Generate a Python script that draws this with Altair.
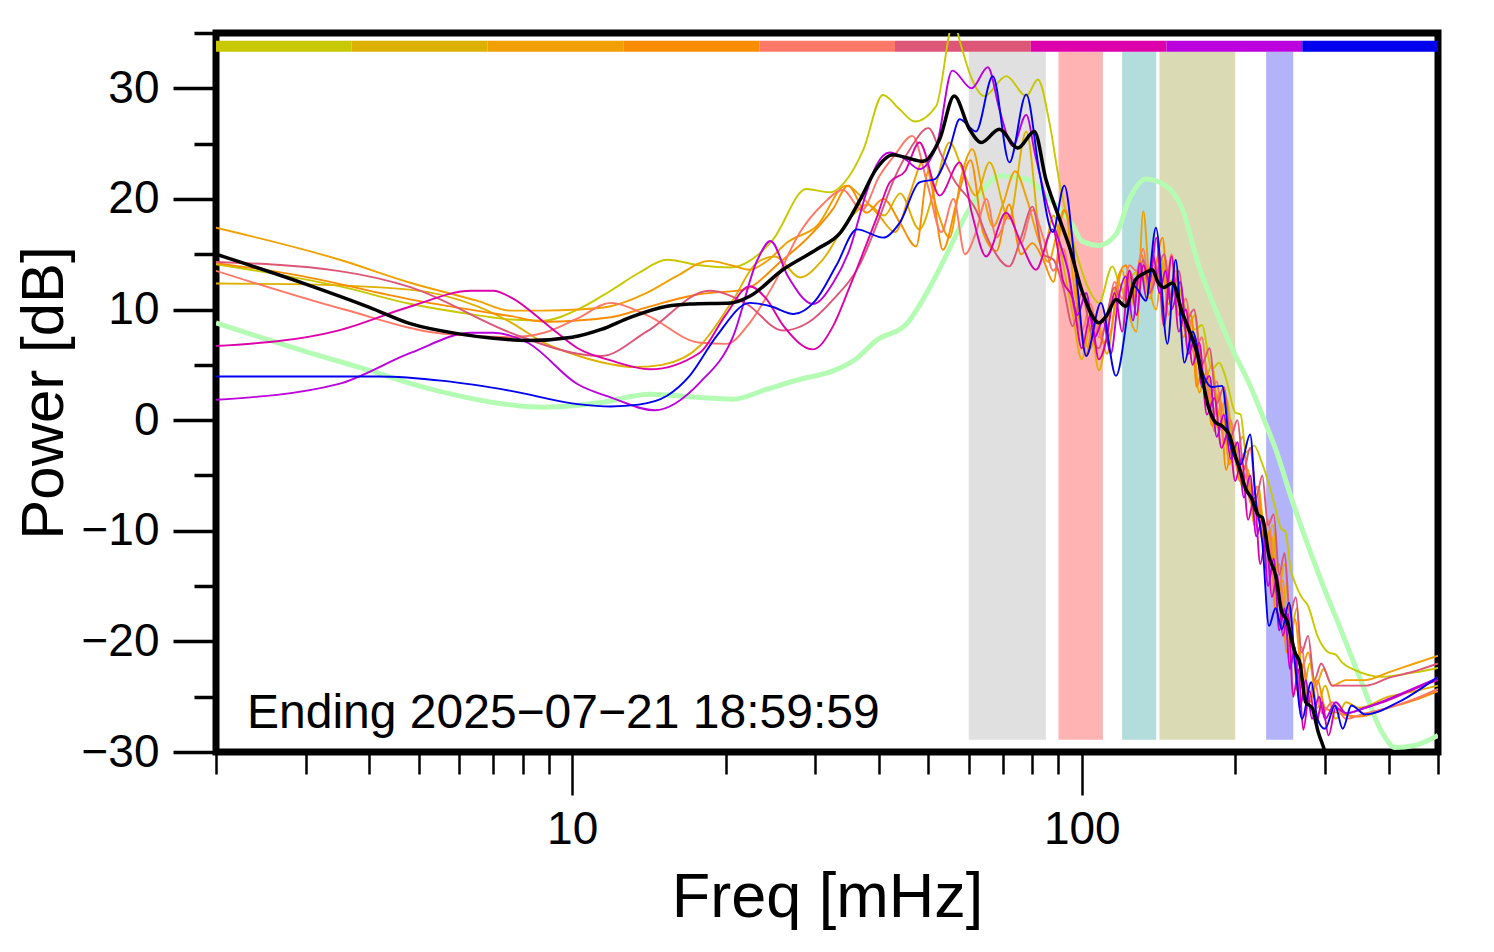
import altair as alt
import pandas as pd

FONT = "Liberation Sans"

# ---------------- data ----------------
series_names = ["s1", "s2", "s3", "s4", "s5", "s6", "s7", "s8", "s9"]
series_colors = ["#c8c800", "#ddb100", "#f0a000", "#fa8c00", "#ff7766",
                 "#dd5577", "#dd00aa", "#bb00dd", "#0000ee"]

f_s1 = [2, 3.57, 4.83, 6.5, 7.58, 8.8, 10.25, 11.9, 13.5, 15.35, 17.8, 20.5, 22.3, 24.8, 28.8, 32, 35, 37.3, 40.7, 43.9,
        47, 51.8, 56, 58, 60.2, 64.4, 71.1, 77.8, 82, 86.4, 90.4, 95.9, 100, 105, 108, 114.8, 120, 125, 131.5, 136,
        140, 145, 152, 160, 167, 172, 180, 186, 192, 200, 205, 210, 218, 225, 232, 240, 246, 251, 257, 262,
        270, 278, 290, 305, 315, 324, 344, 387, 450, 500]
v_s1 = [14.1, 12.0, 10.5, 9.5, 9.1, 9.0, 10.0, 11.7, 13.3, 14.5, 14.0, 13.8, 14.4, 16.35, 20.9, 20.6, 22.1, 24.5, 29.4, 28.1,
        27.0, 28.4, 36.0, 33.8, 31.4, 29.3, 31.1, 29.3, 30.8, 26.9, 21.5, 16.4, 13.5, 11.2, 10.6, 13.9, 11.8, 13.0, 13.6, 12.5,
        12.7, 12.0, 12.8, 10.0, 8.2, 8.6, 4.6, 5.2, 3.7, 0.7, 0.5, -2.9, -2.3, -3.7, -5.5, -8.0, -9.8, -10.1, -13.5, -14.7,
        -16.0, -16.8, -19.5, -21.0, -21.2, -21.9, -22.6, -23.2, -22.8, -22.4]

f_s2 = [2, 2.8, 4.8, 6.5, 7.6, 8.8, 10.3, 11.9, 13.2, 15, 17.8, 20.7, 23, 25, 28, 31, 35, 38, 41, 44,
        48, 51.5, 55, 58.5, 62, 65.9, 72, 77.8, 84, 88, 92, 96, 100, 104, 108, 113, 118, 124, 130, 136,
        142, 148, 153, 160, 167, 173, 180, 186, 192, 200, 207, 214, 222, 230, 237, 243, 250, 257, 264, 272,
        280, 290, 300, 315, 330, 350, 400, 450, 500]
v_s2 = [12.35, 12.3, 11.8, 10.3, 8.8, 7.0, 5.8, 5.06, 4.8, 5.0, 6.7, 10.9, 14.2, 14.8, 12.9, 14.5, 18.2, 19.5, 18.5, 20.5,
        17.25, 21.0, 25.1, 22.5, 20.3, 23.3, 18.2, 26.1, 15.2, 18.5, 14.0, 9.5, 5.5, 8.5, 4.5, 9.0, 12.5, 10.0, 14.0, 11.0,
        15.0, 10.5, 12.5, 8.0, 9.5, 3.0, 5.0, 0.5, 2.0, -3.0, -1.5, -7.0, -6.0, -11.5, -9.5, -15.5, -13.0, -19.5, -17.0, -24.5,
        -22.0, -26.0, -24.0, -27.0, -25.5, -26.0, -25.0, -24.5, -24.0]

f_s3 = [2, 3.5, 4.83, 6.5, 7.58, 8.8, 10.25, 11.9, 14, 16, 18.6, 20.5, 22.3, 24.3, 26.4, 30.2, 34.5, 37.3, 40, 43,
        46, 49, 52, 55, 58, 61, 64, 67, 70, 74, 78, 82, 86, 90, 93, 96, 100, 104, 108, 112,
        116, 120, 124, 128, 132, 136, 140, 144, 148, 153, 158, 164, 170, 176, 182, 188, 195, 200, 206, 212,
        218, 224, 230, 236, 242, 248, 255, 262, 270, 278, 288, 298, 310, 330, 360, 400, 450, 500]
v_s3 = [17.4, 14.5, 12.4, 10.8, 9.9, 9.9, 10.0, 10.3, 11.5, 13.0, 14.4, 14.0, 13.6, 14.5, 16.05, 17.55, 21.2, 20.0, 18.5, 17.0,
        20.5, 23.5, 19.0, 16.5, 22.0, 24.5, 20.5, 17.5, 19.5, 22.5, 20.0, 16.5, 14.3, 17.5, 19.0, 13.0, 8.0, 6.5, 8.5, 6.0,
        10.0, 13.5, 9.5, 8.0, 18.9, 12.0, 10.0, 14.5, 9.5, 13.5, 7.5, 9.0, 2.5, 4.5, -1.0, 1.5, -4.0, -2.0, -6.0, -4.5,
        -9.5, -8.0, -13.0, -10.5, -16.0, -14.5, -20.5, -18.0, -22.5, -21.0, -24.0, -22.5, -24.0, -23.5, -23.5, -22.8, -22.0, -21.3]

f_s4 = [2, 2.81, 4.83, 7.58, 8.8, 11.9, 14, 17.8, 21.7, 25.9, 28.8, 32.5, 34.8, 37.8, 40.8, 43.9, 47.3, 50, 53.4, 57,
        60.5, 64, 68, 72, 76, 80, 84, 88, 92, 95, 98, 102, 106, 110, 114, 118, 122, 126, 131, 135,
        139, 144, 148, 153, 158, 164, 168, 174, 180, 186, 192, 198, 204, 210, 216, 222, 228, 234, 240, 246,
        252, 258, 265, 272, 280, 290, 300, 320, 350, 400, 450, 500]
v_s4 = [14.2, 13.2, 10.9, 9.4, 8.9, 9.3, 10.2, 11.4, 11.8, 14.5, 16.35, 19.1, 21.2, 18.75, 20.0, 17.9, 15.7, 22.5, 15.4, 20.0,
        23.5, 17.0, 15.3, 19.5, 15.0, 16.0, 14.5, 12.5, 19.0, 17.5, 11.0, 6.0, 9.5, 7.0, 8.0, 13.0, 14.0, 11.0, 15.0, 12.0,
        13.5, 16.5, 11.0, 12.0, 8.5, 9.5, 3.0, 5.5, -0.5, 2.5, -4.5, -2.0, -5.5, -4.0, -8.0, -6.5, -11.5, -10.0, -17.5, -15.0,
        -21.0, -19.0, -24.5, -22.0, -25.5, -23.5, -26.0, -26.5, -26.8, -26.0, -25.3, -24.5]

f_s5 = [2, 3.57, 5.6, 7.58, 8.8, 10.25, 11.9, 14, 17.8, 20.1, 22.3, 25, 27.95, 31, 34, 37, 40, 43, 46.5, 50,
        53, 56, 59, 62, 65, 68, 72, 76, 80, 84, 88, 92, 96, 100, 104, 108, 112, 116, 120, 124,
        128, 132, 136, 140, 145, 150, 155, 160, 166, 172, 178, 184, 190, 196, 202, 208, 214, 220, 226, 232,
        238, 244, 250, 256, 263, 270, 278, 286, 296, 310, 330, 360, 400, 450, 500]
v_s5 = [13.5, 10.0, 7.8, 7.5, 7.9, 9.2, 10.6, 9.5, 7.0, 6.9, 8.8, 12.5, 16.95, 19.5, 20.8, 19.0, 22.0, 24.0, 25.7, 21.0,
        17.0, 20.0, 15.0, 17.0, 20.0, 16.5, 18.5, 16.0, 19.0, 16.5, 13.5, 15.5, 10.5, 8.0, 10.5, 7.5, 9.0, 12.5, 11.0, 14.0,
        13.5, 15.5, 11.5, 14.0, 10.0, 15.0, 9.5, 11.0, 6.0, 7.5, 2.0, 3.5, -2.0, 0.0, -4.5, -3.0, -7.5, -6.0, -11.0, -9.0,
        -14.5, -13.0, -18.0, -17.0, -22.5, -20.5, -25.5, -23.5, -26.5, -25.5, -27.0, -26.5, -26.0, -25.2, -24.3]

f_s6 = [2, 3.47, 4.83, 7.58, 10.25, 11.4, 14, 18.6, 22, 25.9, 29, 32.5, 36.8, 39.5, 43, 46, 50, 53, 56, 62,
        66, 72, 76, 80, 84, 88, 92, 96, 100, 104, 108, 112, 116, 120, 124, 128, 132, 136, 140, 145,
        150, 155, 160, 166, 172, 178, 184, 190, 196, 202, 208, 214, 220, 226, 232, 238, 244, 250, 256, 263,
        270, 278, 286, 295, 310, 330, 360, 400, 450, 500]
v_s6 = [14.3, 13.5, 12.0, 7.9, 6.0, 5.8, 8.0, 11.7, 10.5, 8.1, 8.8, 10.9, 14.2, 17.55, 22.0, 24.5, 26.4, 24.0, 21.8, 19.0,
        16.0, 13.9, 16.5, 19.3, 15.0, 14.5, 12.0, 8.5, 11.5, 8.0, 6.5, 9.5, 12.0, 10.5, 13.5, 12.0, 14.5, 11.5, 13.0, 15.0,
        11.0, 13.5, 9.0, 10.0, 5.0, 6.5, 1.5, 3.0, -1.5, 0.0, -4.5, -2.5, -7.0, -5.0, -9.5, -8.5, -14.0, -12.0, -17.5, -16.0,
        -21.0, -19.5, -23.5, -22.0, -24.0, -24.0, -24.0, -23.3, -22.7, -22.0]

f_s7 = [2, 3.47, 4.83, 6.33, 7.0, 7.58, 9, 10.25, 11.9, 14.2, 17.8, 20, 22.3, 24, 26, 29.7, 32.5, 35, 37.5, 39.5,
        42, 45, 48, 52.6, 57.6, 61, 64.9, 71, 76, 81.3, 87.7, 92, 96, 100, 104, 108, 112, 116, 120, 124,
        128, 132, 136, 140, 145, 150, 155, 160, 165, 170, 176, 182, 188, 194, 200, 206, 212, 218, 224, 230,
        236, 242, 248, 254, 260, 266, 272, 280, 288, 296, 305, 315, 330, 360, 400, 450, 500]
v_s7 = [6.7, 8.1, 10.3, 11.7, 11.7, 11.1, 8.5, 6.5, 5.4, 4.6, 6.1, 9.5, 12.1, 11.0, 8.5, 6.4, 8.5, 12.0, 15.5, 18.2,
        21.5, 22.5, 25.1, 20.3, 23.3, 18.5, 14.8, 18.75, 16.0, 13.6, 17.25, 12.5, 11.0, 6.5, 9.5, 5.5, 7.5, 11.5, 8.0, 13.5,
        9.5, 14.0, 12.5, 16.5, 8.5, 14.8, 8.0, 10.0, 5.0, 7.0, 0.5, 2.0, -2.5, -1.0, -5.5, -3.5, -9.0, -7.0, -13.0, -10.5,
        -16.0, -14.0, -19.5, -17.5, -25.0, -22.5, -28.0, -24.5, -27.5, -25.5, -28.5, -26.0, -26.5, -26.0, -25.3, -24.3, -23.5]

f_s8 = [2, 3.47, 4.83, 6.33, 7.0, 8.18, 10.25, 11.9, 14.5, 17.8, 20.7, 23.1, 24.5, 26.5, 29.7, 32.5, 35, 37.8, 39.5, 42,
        45, 48, 52, 55.7, 60.8, 65.4, 69, 73.2, 77.8, 81, 86.4, 90.4, 94, 98, 102, 106, 110, 114, 118, 122,
        126, 130, 134, 138, 142, 146, 150, 156, 162, 167, 172, 178, 184, 190, 196, 202, 208, 214, 220, 226,
        232, 238, 244, 250, 256, 262, 268, 275, 283, 292, 300, 315, 330, 360, 400, 450, 500]
v_s8 = [1.84, 3.25, 6.1, 7.9, 7.9, 7.0, 3.25, 2.05, 0.9, 3.4, 7.6, 14.5, 16.2, 13.0, 10.5, 12.4, 15.4, 20.6, 23.0, 24.2,
        23.6, 22.7, 25.0, 31.6, 30.0, 31.9, 28.0, 24.8, 27.6, 24.0, 18.75, 16.1, 13.5, 9.5, 11.5, 7.5, 9.0, 6.0, 11.0, 13.0,
        9.0, 14.2, 11.0, 15.0, 11.5, 13.5, 10.0, 12.5, 6.0, 7.5, 3.0, 4.0, -1.5, 0.5, -3.5, -2.0, -7.0, -5.0, -10.5, -9.0,
        -15.0, -12.5, -19.0, -17.0, -22.5, -20.5, -26.0, -23.5, -27.0, -25.0, -27.0, -25.5, -26.5, -26.0, -25.2, -24.2, -23.3]

f_s9 = [2, 4.16, 5.6, 7.58, 10.25, 11.9, 13.5, 15.35, 17, 19.2, 22.3, 24.5, 27.2, 30, 33, 36.2, 40.8, 44, 48, 51.5,
        55, 57.6, 62, 66.9, 72.1, 77.8, 82.6, 87.7, 92.4, 97.4, 102, 109, 116.7, 126.7, 133.6, 139.8, 147.2, 152.8, 159, 165,
        172, 180, 188.5, 195, 205, 214, 219, 226, 233, 240, 247, 255, 262, 270.5, 282, 290, 300, 314, 325, 338,
        360, 418, 500]
v_s9 = [3.95, 3.95, 3.55, 2.65, 1.45, 1.24, 1.4, 2.2, 4.0, 7.6, 10.6, 10.3, 9.6, 10.8, 14.0, 17.25, 16.5, 17.9, 21.5, 21.8,
        24.5, 27.2, 26.1, 31.1, 23.3, 29.45, 22.4, 17.0, 21.2, 13.3, 5.8, 10.6, 4.0, 12.1, 10.8, 17.4, 6.9, 14.5, 5.2, 8.0,
        4.5, 3.0, 3.1, -2.0, -4.0, -1.3, -6.8, -11.0, -18.6, -17.0, -18.9, -16.5, -22.0, -27.0, -23.7, -27.0, -27.9, -25.8, -27.9, -25.8,
        -26.6, -25.5, -23.2]

f_mean = [2, 3, 4, 4.83, 6, 7, 8.18, 10, 11.4, 13, 15.35, 17, 20.5, 22.3, 25.9, 30.2, 33.6, 36.8, 39.5, 42.6,
          45.5, 48.8, 52.6, 56.2, 60.2, 63.5, 68.9, 74.9, 80.7, 85, 90.4, 94.5, 100.4, 108, 112, 116.7, 122, 127.4, 133, 137.6,
          141, 145, 150.5, 157.5, 165, 168.5, 172.5, 177, 183, 188, 195, 200, 205, 209.6, 215, 222, 226, 233, 240, 247,
          252, 262, 268, 275, 283, 291, 300, 310]
v_mean = [15.0, 12.3, 10.2, 8.7, 7.8, 7.4, 7.2, 7.5, 8.2, 9.3, 10.3, 10.5, 10.6, 11.2, 13.6, 15.45, 16.95, 20.0, 22.7, 24.0,
          23.7, 23.4, 25.4, 29.3, 26.3, 25.1, 26.3, 24.6, 26.1, 21.8, 18.2, 15.7, 11.5, 8.8, 9.5, 10.9, 10.3, 12.7, 13.3, 13.6,
          12.5, 12.0, 12.4, 9.7, 7.3, 6.0, 3.7, 1.3, -0.2, -0.5, -1.4, -3.2, -4.7, -6.2, -7.0, -8.6, -8.8, -12.3, -14.0, -17.4,
          -18.0, -21.0, -22.0, -25.5, -26.0, -28.2, -30.0, -33.0]

f_ref = [2, 3, 4, 5, 6, 7, 8.8, 10, 11.4, 14.2, 17.8, 20.7, 24.1, 28, 32.5, 36, 39.5, 45.3, 51, 55,
         59.3, 64, 69, 77.8, 86.4, 96, 100, 108, 116.7, 124, 133.6, 146, 157.5, 169.8, 183, 197.5, 212.6, 229, 240, 258,
         296, 324, 354, 388, 412, 450, 500]
v_ref = [8.8, 6.2, 4.5, 3.1, 2.2, 1.6, 1.17, 1.3, 1.6, 2.35, 2.05, 1.9, 2.8, 3.7, 4.45, 5.5, 7.2, 8.7, 12.5, 15.5,
         18.6, 20.8, 22.1, 21.8, 20.0, 17.6, 16.2, 15.8, 16.8, 20.0, 21.8, 21.2, 19.1, 13.9, 10.0, 6.4, 3.4, -0.2, -2.6, -7.1,
         -14.7, -19.2, -23.7, -28.2, -29.6, -29.4, -28.5]

# shaded frequency bands
band_start = [60, 90, 120, 142, 230]
band_end = [85, 110, 140, 200, 260]
band_colors = ["#e0e0e0", "#ffb3b3", "#b3dcdc", "#dadab4", "#b3b3fa"]
band_low = -28.9
band_high = 33.3

# top colour key (segment edges in mHz)
key_edges = [2, 3.69, 6.82, 12.6, 23.3, 43.0, 79.4, 146.6, 270.8, 500]
key_low = 33.3
key_high = 34.3

annotation = ["Ending 2025\u221207\u221221 18:59:59"]

x_minor_ticks = [2, 3, 4, 5, 6, 7, 8, 9, 20, 30, 40, 50, 60, 70, 80, 90, 200, 300, 400, 500]
x_major_ticks = [10, 100]
y_major_ticks = [-30, -20, -10, 0, 10, 20, 30]
y_minor_ticks = [-25, -15, -5, 5, 15, 25, 35]

# ---------------- tables ----------------
series_data = [f_s1, v_s1, f_s2, v_s2, f_s3, v_s3, f_s4, v_s4, f_s5, v_s5,
               f_s6, v_s6, f_s7, v_s7, f_s8, v_s8, f_s9, v_s9]
rows = []
for k, name in enumerate(series_names):
    F = series_data[2 * k]
    V = series_data[2 * k + 1]
    assert len(F) == len(V), (name, len(F), len(V))
    for i, (f, v) in enumerate(zip(F, V)):
        rows.append({"series": name, "f": f, "v": v, "i": i})
df_lines = pd.DataFrame(rows)

assert len(f_mean) == len(v_mean), ("mean", len(f_mean), len(v_mean))
assert len(f_ref) == len(v_ref), ("ref", len(f_ref), len(v_ref))
df_mean = pd.DataFrame({"f": f_mean, "v": v_mean, "i": range(len(f_mean))})
df_ref = pd.DataFrame({"f": f_ref, "v": v_ref, "i": range(len(f_ref))})

df_bands = pd.DataFrame({"x0": band_start, "x1": band_end, "c": band_colors,
                         "y0": [band_low] * 5, "y1": [band_high] * 5})
df_key = pd.DataFrame({"x0": key_edges[:-1], "x1": key_edges[1:], "c": series_colors,
                       "y0": [key_low] * 9, "y1": [key_high] * 9})
df_text = pd.DataFrame({"t": annotation})

xscale = alt.Scale(type="log", domain=[2, 500], nice=False)
yscale = alt.Scale(domain=[-30, 35], nice=False, zero=False)

common_axis = dict(domain=False, grid=False, labelFont=FONT, titleFont=FONT,
                   labelColor="black", titleColor="black", tickColor="black",
                   titleFontWeight="normal", labelOverlap=False)

x_major_axis = alt.Axis(values=x_major_ticks, orient="bottom", tickSize=43, tickWidth=2.5,
                        labelFontSize=46, labelPadding=12, format="d", labelFlush=False,
                        title="Freq [mHz]", titleFontSize=63, titlePadding=14, **common_axis)
y_major_axis = alt.Axis(values=y_major_ticks, orient="left", tickSize=43, tickWidth=3.5,
                        labelFontSize=46, labelPadding=14, format="d",
                        title="Power [dB]", titleFontSize=60, titlePadding=5, **common_axis)
x_minor_axis = alt.Axis(values=x_minor_ticks, orient="bottom", tickSize=22, tickWidth=2.5,
                        labels=False, title=None, **common_axis)
y_minor_axis = alt.Axis(values=y_minor_ticks, orient="left", tickSize=22, tickWidth=3.5,
                        labels=False, title=None, **common_axis)

bands = alt.Chart(df_bands).mark_rect().encode(
    x=alt.X("x0:Q", scale=xscale, axis=x_major_axis),
    x2="x1:Q",
    y=alt.Y("y0:Q", scale=yscale, axis=y_major_axis),
    y2="y1:Q",
    color=alt.Color("c:N", scale=None),
)

key = alt.Chart(df_key).mark_rect().encode(
    x=alt.X("x0:Q", scale=xscale, axis=x_minor_axis),
    x2="x1:Q",
    y=alt.Y("y0:Q", scale=yscale, axis=y_minor_axis),
    y2="y1:Q",
    color=alt.Color("c:N", scale=None),
)

ref_line = alt.Chart(df_ref).mark_line(strokeWidth=5, color="#b4fcb4", interpolate="monotone", clip=True).encode(
    x=alt.X("f:Q", scale=xscale, axis=None),
    y=alt.Y("v:Q", scale=yscale, axis=None),
    order="i:Q",
)

lines = alt.Chart(df_lines).mark_line(strokeWidth=1.9, interpolate="monotone", clip=True).encode(
    x=alt.X("f:Q", scale=xscale, axis=None),
    y=alt.Y("v:Q", scale=yscale, axis=None),
    color=alt.Color("series:N", scale=alt.Scale(domain=series_names, range=series_colors), legend=None),
    order="i:Q",
)

mean_line = alt.Chart(df_mean).mark_line(strokeWidth=3.5, color="black", interpolate="monotone", clip=True).encode(
    x=alt.X("f:Q", scale=xscale, axis=None),
    y=alt.Y("v:Q", scale=yscale, axis=None),
    order="i:Q",
)

label = alt.Chart(df_text).mark_text(align="left", baseline="alphabetic", fontSize=48,
                                     font=FONT, color="black").encode(
    x=alt.value(31),
    y=alt.value(695),
    text="t:N",
)

chart = alt.layer(bands, key, ref_line, lines, mean_line, label).resolve_axis(
    x="independent", y="independent"
).properties(
    width=1222,
    height=719,
    autosize=alt.AutoSizeParams(type="none"),
    padding={"left": 208, "top": 25, "right": 40, "bottom": 180},
).configure_view(
    stroke="black", strokeWidth=7
)

chart.save("out.html", embed_options={"renderer": "svg", "actions": False})
